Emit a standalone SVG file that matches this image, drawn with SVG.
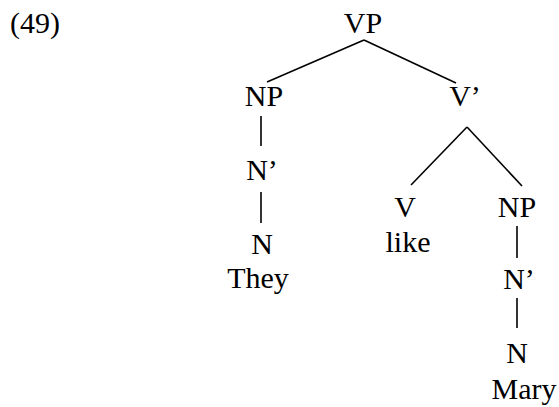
<svg xmlns="http://www.w3.org/2000/svg" width="559" height="407" viewBox="0 0 559 407">
<style>
text{font-family:"Liberation Serif","Times New Roman",serif;font-size:30px;fill:#000;text-anchor:middle}
.e{stroke:#000;stroke-width:1.6;fill:none}
</style>
<rect width="559" height="407" fill="#fff"/>
<text x="10" y="33" style="text-anchor:start">(49)</text>
<g id="VP"><text x="363" y="33">VP</text></g>
<g id="NP1"><text x="264" y="106">NP</text></g>
<g id="Vbar"><text x="465" y="106">V’</text></g>
<g id="Nbar1"><text x="262" y="180">N’</text></g>
<g id="N1"><text x="262" y="254">N</text><text x="258" y="288">They</text></g>
<g id="V"><text x="405" y="217">V</text><text x="408" y="252">like</text></g>
<g id="NP2"><text x="517" y="217">NP</text></g>
<g id="Nbar2"><text x="519" y="289">N’</text></g>
<g id="N2"><text x="517" y="363">N</text><text x="524" y="399">Mary</text></g>
<g id="edges" class="e">
<line x1="364" y1="40" x2="267" y2="82"/>
<line x1="364" y1="40" x2="456" y2="83"/>
<line x1="261" y1="116" x2="261" y2="146"/>
<line x1="261" y1="192" x2="261" y2="223"/>
<line x1="467" y1="127" x2="411" y2="185"/>
<line x1="467" y1="127" x2="522" y2="186"/>
<line x1="517" y1="226" x2="517" y2="258"/>
<line x1="517" y1="298" x2="517" y2="328"/>
</g>
</svg>
